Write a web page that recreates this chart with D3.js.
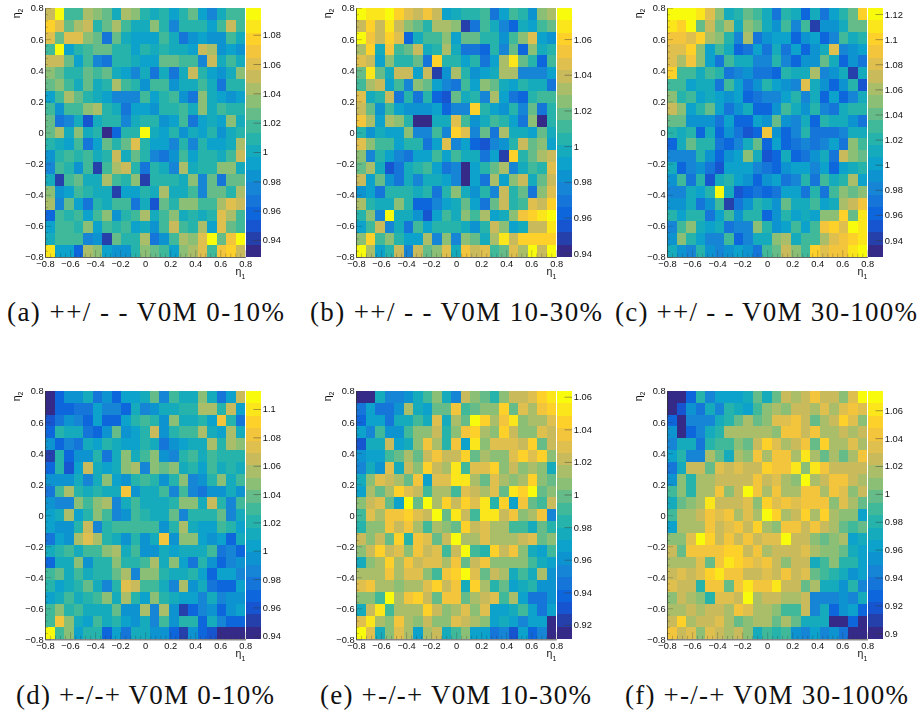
<!DOCTYPE html>
<html><head><meta charset="utf-8"><title>eta1 eta2 correlation</title>
<script src="https://cdn.jsdelivr.net/npm/d3@7"></script>
<style>html,body{margin:0;padding:0;background:#fff}svg{display:block}</style></head>
<body><div id="chart"></div>
<script>
// Colour-bin readings (0 = lowest of 20 palette levels, 19 = highest), rows run from eta2 = +0.8 down to -0.8
const binsA = [
[14,19,10,10,13,12,11,8,13,12,9,8,9,7,9,11,7,5,8,10,10],
[17,15,11,13,14,9,11,13,10,8,8,12,9,5,9,9,9,7,10,14,10],
[15,11,15,15,12,11,4,11,8,7,7,7,10,8,4,6,7,6,6,10,8],
[10,19,7,9,10,11,11,9,9,7,9,8,9,8,8,7,14,13,6,7,6],
[14,14,11,7,10,5,4,9,9,8,7,7,11,11,10,10,5,14,8,10,8],
[12,11,9,9,11,10,11,8,7,5,8,4,8,4,8,14,9,7,6,8,12],
[11,12,10,8,11,8,9,13,10,9,6,10,10,6,8,8,10,8,4,9,9],
[7,10,13,11,9,8,7,5,5,5,10,7,9,10,6,4,12,8,7,6,7],
[10,6,10,10,12,13,9,8,4,7,7,6,9,9,10,8,12,8,10,9,9],
[11,4,5,8,2,8,9,9,5,8,9,9,6,7,10,4,7,8,7,12,8],
[11,13,8,12,8,9,0,3,9,9,19,8,7,9,6,8,7,9,6,8,9],
[9,8,7,10,4,7,11,9,11,15,9,7,7,5,9,5,9,7,7,8,13],
[6,9,10,9,10,8,9,14,8,11,9,5,4,6,10,7,9,9,8,10,14],
[5,10,9,6,10,1,10,13,14,9,4,9,8,5,13,8,9,9,12,12,8],
[8,1,10,11,8,8,13,10,9,12,1,9,9,9,8,12,5,11,4,11,11],
[12,6,7,10,9,8,8,1,7,7,9,8,13,8,8,10,5,11,11,9,13],
[13,5,11,7,4,9,8,10,10,4,8,2,11,9,12,12,10,10,13,15,14],
[3,10,9,10,7,10,12,6,9,10,13,8,10,12,8,9,8,9,15,13,10],
[7,10,10,9,12,7,10,9,10,7,8,6,10,14,10,9,13,7,15,11,10],
[8,10,10,10,5,6,1,11,9,9,13,4,6,10,13,12,15,19,11,16,19],
[18,7,7,3,13,12,7,6,6,9,12,11,10,7,12,13,15,10,16,17,14]];
const binsB = [
[19,18,18,19,17,15,14,16,14,7,8,9,9,10,4,7,10,9,6,12,13],
[14,17,14,18,14,12,11,9,13,13,12,1,4,10,8,5,3,8,7,10,11],
[19,16,14,17,15,3,8,10,10,12,7,11,11,9,9,6,10,12,15,7,6],
[13,17,8,16,10,11,14,8,9,13,8,4,4,3,9,5,11,3,12,8,9],
[15,14,7,12,9,9,11,4,17,9,9,7,9,4,7,13,18,11,9,3,10],
[11,18,11,8,14,14,7,14,1,6,13,9,6,7,8,13,13,5,5,5,7],
[10,13,14,7,10,5,12,11,7,5,4,10,7,12,11,8,7,9,8,8,4],
[15,8,9,14,4,9,4,9,3,2,11,8,9,5,13,7,4,3,9,10,10],
[14,11,6,10,7,6,6,6,7,3,5,5,17,9,7,6,9,5,11,4,9],
[16,13,7,13,12,9,0,0,8,8,15,10,6,8,10,9,7,4,12,0,9],
[9,6,8,7,7,12,5,5,10,5,17,15,5,11,4,13,8,8,7,11,8],
[15,12,10,10,7,9,9,4,7,15,5,7,3,2,5,6,9,14,11,12,7],
[12,5,9,7,5,4,7,7,10,7,10,8,8,4,7,1,17,9,11,13,14],
[11,13,8,2,4,8,9,10,7,4,5,0,7,9,11,13,5,8,10,9,15],
[14,7,11,6,4,8,5,8,8,7,5,0,7,4,13,7,12,14,8,11,14],
[6,7,4,9,9,9,8,9,4,9,12,8,6,9,5,14,9,11,4,12,15],
[13,9,8,8,12,9,3,3,5,7,8,11,7,4,11,14,9,10,15,14,17],
[9,12,5,19,8,8,6,2,7,10,8,12,10,13,7,8,12,16,17,18,19],
[7,10,14,5,8,4,10,7,9,9,9,8,6,9,14,12,7,8,14,14,18],
[12,17,10,12,9,7,7,13,5,12,5,12,11,8,13,18,14,17,17,17,17],
[19,13,7,9,14,5,14,11,12,15,8,16,14,15,10,11,15,13,19,14,19]];
const binsC = [
[19,19,19,18,15,12,8,9,11,10,8,4,9,8,3,8,4,7,9,11,17],
[18,17,19,11,14,11,13,8,12,11,8,6,10,5,10,1,6,6,8,11,11],
[16,16,15,17,13,12,9,5,13,4,6,7,7,3,6,7,3,5,10,8,9],
[15,15,17,12,7,10,8,3,4,7,4,8,4,7,3,6,8,15,5,6,7],
[15,13,16,12,7,4,10,8,8,5,5,9,5,3,6,6,11,8,3,6,4],
[17,10,10,8,10,9,4,5,6,4,4,3,9,8,8,13,5,6,8,1,8],
[10,10,7,8,8,4,10,7,4,6,9,7,6,5,15,8,6,3,6,9,2],
[12,9,10,7,8,7,6,7,3,4,5,5,7,9,5,8,3,7,3,5,8],
[14,12,7,9,11,7,4,6,8,3,3,6,10,8,6,9,5,4,8,9,9],
[11,11,6,6,6,4,7,3,3,7,6,11,6,5,8,3,9,8,8,6,4],
[9,8,9,3,8,3,6,4,2,3,16,6,3,5,9,4,4,4,5,8,8],
[3,8,11,9,9,4,3,5,8,11,3,7,3,4,5,4,5,7,4,12,10],
[5,5,5,9,6,3,6,7,12,8,2,3,8,3,4,6,8,4,14,12,11],
[8,3,5,6,4,2,7,7,7,5,4,3,6,7,7,5,7,3,7,8,9],
[6,10,4,9,2,8,9,7,6,3,6,7,4,5,9,4,10,8,9,13,7],
[5,5,8,7,9,19,8,2,3,4,3,4,7,7,4,9,4,10,12,11,12],
[6,6,8,4,6,10,1,4,6,9,8,6,11,8,8,10,7,8,13,14,16],
[9,7,9,9,4,7,10,6,9,9,3,6,9,7,8,7,12,12,17,11,18],
[5,10,12,8,7,8,4,5,5,12,9,6,7,10,7,10,16,17,15,19,18],
[6,12,9,7,5,5,10,3,5,8,8,12,13,8,10,10,13,15,16,17,18],
[8,6,5,9,6,5,6,7,6,4,10,11,14,12,10,17,15,16,16,18,19]];
const binsD = [
[0,3,6,6,8,4,6,3,7,7,8,11,5,10,8,8,12,8,4,7,14],
[0,3,3,4,4,7,5,5,3,8,5,6,8,8,9,9,13,13,9,14,7],
[2,4,6,5,3,7,3,3,7,9,10,9,6,12,8,8,9,7,16,9,4],
[3,9,8,8,4,3,6,11,6,7,9,14,6,9,10,10,13,8,7,13,8],
[6,3,5,4,8,7,9,8,7,7,9,8,4,6,7,8,8,13,9,13,12],
[1,9,3,6,6,9,4,8,12,8,10,12,6,5,9,10,8,10,9,9,9],
[3,9,2,7,14,8,7,8,12,13,5,12,11,12,8,9,7,10,8,9,8],
[6,6,6,8,5,8,12,7,6,9,10,9,6,9,12,5,6,9,12,8,10],
[4,10,13,9,8,9,8,8,16,6,8,8,10,5,10,5,4,6,6,8,6],
[6,5,5,12,10,12,13,5,8,10,8,8,8,9,12,12,8,14,9,5,10],
[7,8,13,7,9,12,10,5,6,10,9,8,8,11,5,9,9,9,11,5,8],
[7,6,6,9,14,5,9,10,10,10,10,10,6,9,13,8,7,7,10,9,7],
[4,7,6,13,15,13,9,8,6,9,6,8,16,6,12,12,7,6,7,3,8],
[8,9,10,8,10,10,12,13,8,10,6,6,8,7,8,8,8,10,4,5,3],
[3,8,8,12,6,9,9,12,9,9,10,13,8,12,7,4,9,6,3,5,6],
[10,11,8,10,8,9,9,11,13,5,12,12,9,8,8,9,7,3,7,7,5],
[9,7,8,9,11,8,5,9,15,14,10,10,8,5,13,6,8,4,3,3,7],
[7,8,10,8,9,10,12,8,13,9,7,12,9,8,7,7,5,8,5,6,6],
[10,12,9,10,8,8,8,11,6,6,13,5,13,6,1,3,5,6,3,6,7],
[10,16,12,8,7,10,8,9,7,6,8,5,10,6,9,9,3,8,5,3,3],
[19,10,12,7,9,9,3,7,4,8,8,6,6,3,1,6,3,2,0,0,0]];
const binsE = [
[0,0,8,5,5,6,8,10,12,8,5,14,12,11,9,12,14,14,15,17,18],
[4,7,4,4,6,13,8,7,11,11,16,10,11,12,12,17,11,15,13,16,17],
[3,7,7,4,8,8,10,8,15,8,13,11,19,17,13,16,18,12,13,13,15],
[7,5,10,6,6,10,12,12,14,9,12,16,17,13,12,17,14,12,12,15,14],
[2,8,8,14,7,8,12,16,13,9,16,7,18,12,15,15,15,14,17,11,14],
[6,7,7,10,11,13,11,14,16,14,14,17,11,13,12,12,15,17,15,17,12],
[5,8,6,15,8,14,12,17,14,13,18,10,15,15,17,12,14,12,13,12,8],
[8,12,15,14,13,11,16,7,15,15,18,18,13,11,15,13,12,13,17,12,11],
[7,13,11,13,17,15,14,10,13,13,10,15,14,13,15,11,18,17,19,11,12],
[12,14,15,11,7,19,11,19,13,17,14,17,15,18,9,17,7,16,11,10,14],
[10,15,13,16,16,17,15,14,19,11,18,14,10,18,18,14,16,12,13,16,5],
[9,12,12,16,14,16,13,10,13,12,11,17,14,15,13,13,10,10,8,11,9],
[14,12,14,11,17,9,16,15,11,14,19,13,13,15,13,13,13,14,15,11,12],
[12,14,17,14,15,12,16,14,15,10,14,19,10,9,17,14,16,12,8,7,10],
[8,12,13,17,13,16,14,15,15,13,16,11,14,16,12,12,12,12,10,8,7],
[13,13,13,16,13,15,15,12,10,16,17,19,15,11,14,13,8,10,8,13,6],
[15,16,13,13,12,13,13,15,17,14,16,8,17,13,9,11,7,8,9,6,6],
[12,12,10,19,13,16,17,14,11,16,16,11,13,14,15,10,13,7,4,4,6],
[8,14,18,10,13,13,13,17,14,12,13,15,12,15,7,7,8,10,7,4,7],
[15,18,13,12,16,13,12,14,12,12,15,14,13,12,7,8,7,5,7,7,0],
[19,15,8,12,15,13,7,13,14,8,10,12,7,7,4,5,2,7,3,5,0]];
const binsF = [
[0,0,3,9,5,7,7,7,8,11,8,11,14,13,14,16,14,14,12,15,19],
[0,2,6,4,8,5,9,8,7,10,12,13,12,14,14,13,15,13,15,16,15],
[3,0,5,5,5,8,9,11,13,11,12,15,15,16,14,11,13,14,17,15,12],
[6,0,3,5,8,9,13,13,13,13,13,12,16,16,14,16,13,13,14,13,14],
[5,8,8,4,9,10,10,12,11,14,17,15,13,14,16,11,17,13,13,15,13],
[7,9,5,5,13,11,8,13,12,16,13,16,16,13,18,13,11,13,11,13,16],
[4,8,14,14,11,15,14,15,14,14,17,16,16,18,12,18,16,14,14,14,14],
[6,12,9,13,13,14,14,14,14,16,14,15,13,12,19,13,14,16,16,14,13],
[10,12,9,13,13,16,12,14,19,16,13,16,13,13,16,16,13,16,15,12,14],
[8,11,12,13,18,14,14,14,15,12,17,15,16,15,16,16,16,12,15,13,11],
[10,13,13,14,16,15,16,13,15,13,19,17,13,14,17,13,17,13,12,12,7],
[7,13,13,13,16,14,15,16,14,17,13,12,16,16,14,16,14,13,11,10,11],
[12,12,15,19,17,14,16,14,16,14,15,15,19,14,14,12,11,12,13,7,8],
[14,11,16,16,16,16,17,17,14,16,13,14,14,14,15,13,12,12,11,8,7],
[13,13,13,15,11,16,18,17,16,15,16,14,12,14,14,8,10,12,9,9,7],
[14,15,14,15,17,18,16,16,14,14,15,14,16,14,15,11,10,9,8,6,7],
[15,14,14,9,16,16,11,16,18,16,16,18,14,14,11,13,8,8,6,9,5],
[12,14,13,12,9,15,15,14,19,13,14,14,13,13,14,5,5,5,6,5,8],
[13,13,14,13,14,14,13,16,15,13,13,12,10,10,14,5,8,3,6,7,3],
[14,17,13,14,14,15,13,11,12,13,13,11,13,11,8,8,8,0,0,3,0],
[16,14,15,12,15,14,13,14,12,8,10,9,10,6,5,7,5,6,4,0,0]];

const captions = ["(a) ++/ - - V0M 0-10%","(b) ++/ - - V0M 10-30%","(c) ++/ - - V0M 30-100%",
                  "(d) +-/-+ V0M 0-10%","(e) +-/-+ V0M 10-30%","(f) +-/-+ V0M 30-100%"];
const zRanges = [[0.9284,1.0982],[0.9379,1.0774],[0.9265,1.1248],[0.9375,1.1127],[0.9112,1.0635],[0.8957,1.0738]];
const zTicks = [
 [0.94,0.96,0.98,1,1.02,1.04,1.06,1.08],
 [0.94,0.96,0.98,1,1.02,1.04,1.06],
 [0.94,0.96,0.98,1,1.02,1.04,1.06,1.08,1.1,1.12],
 [0.94,0.96,0.98,1,1.02,1.04,1.06,1.08,1.1],
 [0.92,0.94,0.96,0.98,1,1.02,1.04,1.06],
 [0.9,0.92,0.94,0.96,0.98,1,1.02,1.04,1.06]];
const etaTicks = [-0.8,-0.6,-0.4,-0.2,0,0.2,0.4,0.6,0.8];
const etaMinorTicks = [-0.76,-0.72,-0.68,-0.64,-0.56,-0.52,-0.48,-0.44,-0.36,-0.32,-0.28,-0.24,-0.16,-0.12,-0.08,-0.04,0.04,0.08,0.12,0.16,0.24,0.28,0.32,0.36,0.44,0.48,0.52,0.56,0.64,0.68,0.72,0.76];
const birdStops = [0,.125,.25,.375,.5,.625,.75,.875,1];
const birdColors = ["#352a87","#0f5cdd","#1481d6","#06a4ca","#2eb7a4","#87bf77","#d1bb59","#fec832","#f9fb0e"];
const allBins = [binsA,binsB,binsC,binsD,binsE,binsF];

const W=920,H=715,nLevels=20,nBins=21;
const lefts=[45,356,667], tops=[8,391], plotW=200.3, plotHs=[249,248.3], barGap=1, barW=14.7;
const captionX=[[7,277],[310,292],[615,302],[16,258],[320,271],[625,283]], captionY=[321,703.5];

const bird=d3.scaleLinear().domain(birdStops).range(birdColors).interpolate(d3.interpolateRgb);
const palette=d3.range(nLevels).map(i=>bird(i/(nLevels-1)));
const fmtEta=d=>(d<0?"\u2212":"")+Math.abs(d);
const fmtZ=d=>String(+d.toFixed(2));

const svg=d3.select("#chart").append("svg").attr("width",W).attr("height",H).attr("viewBox",`0 0 ${W} ${H}`)
  .style("font-family","'Liberation Sans',Arial,sans-serif");
const defs=svg.append("defs");
defs.append("filter").attr("id","soft").attr("filterUnits","userSpaceOnUse")
  .attr("x",0).attr("y",0).attr("width",W).attr("height",H)
  .append("feGaussianBlur").attr("stdDeviation",0.5);

allBins.forEach((bins,p)=>{
  const col=p%3,row=Math.floor(p/3),L=lefts[col],T=tops[row],h=plotHs[row];
  const g=svg.append("g").attr("filter","url(#soft)");
  const x=d3.scaleLinear().domain([-0.8,0.8]).range([L,L+plotW]);
  const y=d3.scaleLinear().domain([-0.8,0.8]).range([T+h,T]);
  const binW=1.6/nBins;
  const [z0,z1]=zRanges[p];
  const color=d3.scaleQuantize().domain([z0,z1]).range(palette);
  const cells=bins.flatMap((r,j)=>r.map((b,i)=>({
    eta1:-0.8+i*binW, eta2:0.8-j*binW, value:z0+(b+0.5)*(z1-z0)/nLevels})));
  g.append("g").selectAll("rect").data(cells).join("rect")
    .attr("x",d=>x(d.eta1)).attr("y",d=>y(d.eta2))
    .attr("width",x(binW)-x(0)).attr("height",y(0)-y(binW))
    .attr("fill",d=>color(d.value)).attr("shape-rendering","crispEdges");

  // colour bar
  const barL=L+plotW+barGap;
  const zs=d3.scaleLinear().domain([z0,z1]).range([T+h,T]);
  const step=(z1-z0)/nLevels;
  g.append("g").selectAll("rect").data(d3.range(nLevels)).join("rect")
    .attr("x",barL).attr("width",barW)
    .attr("y",i=>zs(z0+(i+1)*step)).attr("height",zs(z0)-zs(z0+step))
    .attr("fill",i=>palette[i]).attr("shape-rendering","crispEdges");
  const zAxis=d3.axisRight(zs).tickValues(zTicks[p]).tickFormat(fmtZ).tickSizeInner(-7.5).tickSizeOuter(0).tickPadding(9);
  const zg=g.append("g").attr("transform",`translate(${barL+barW},0)`).call(zAxis);
  zg.select(".domain").remove();
  zg.selectAll("line").attr("stroke","#3a3a3a").attr("stroke-opacity",0.65).attr("stroke-width",0.7);
  zg.selectAll("text").attr("font-size",9.3).attr("fill","#111").attr("x",1.8);

  // axes with ROOT style inward ticks
  const xAxis=d3.axisBottom(x).tickValues(etaTicks).tickFormat(fmtEta).tickSizeInner(-7).tickSizeOuter(0).tickPadding(11);
  const yAxis=d3.axisLeft(y).tickValues(etaTicks).tickFormat(fmtEta).tickSizeInner(-6).tickSizeOuter(0).tickPadding(7);
  const gx=g.append("g").attr("transform",`translate(0,${T+h})`).call(xAxis);
  const gy=g.append("g").attr("transform",`translate(${L},0)`).call(yAxis);
  const gxm=g.append("g").attr("transform",`translate(0,${T+h})`).call(d3.axisBottom(x).tickValues(etaMinorTicks).tickFormat("").tickSizeInner(-3.5).tickSizeOuter(0));
  const gym=g.append("g").attr("transform",`translate(${L},0)`).call(d3.axisLeft(y).tickValues(etaMinorTicks).tickFormat("").tickSizeInner(-3).tickSizeOuter(0));
  [gx,gy,gxm,gym].forEach(a=>{
    a.select(".domain").attr("stroke","#333").attr("stroke-width",0.5);
    a.selectAll("line").attr("stroke","#333").attr("stroke-opacity",0.5).attr("stroke-width",0.55);
    a.selectAll("text").attr("font-size",9.3).attr("fill","#111");
  });
  gx.selectAll("text").attr("y",3.4);
  gy.selectAll("text").attr("x",-1.4);

  // axis titles
  const tx=g.append("text").attr("x",L+plotW).attr("y",T+h+18).attr("text-anchor","end").attr("font-size",10.5).attr("fill","#111");
  tx.append("tspan").text("\u03b7");
  tx.append("tspan").attr("dy",3.5).attr("font-size",7).text("1");
  const ty=g.append("text").attr("transform",`translate(${L-25.5},${T+0.5}) rotate(-90)`).attr("text-anchor","end").attr("font-size",10.5).attr("fill","#111");
  ty.append("tspan").text("\u03b7");
  ty.append("tspan").attr("dy",3.5).attr("font-size",7).text("2");

  // caption
  svg.append("text").attr("x",captionX[p][0]).attr("y",captionY[row])
    .attr("textLength",captionX[p][1]).attr("lengthAdjust","spacing")
    .attr("font-family","'Liberation Serif','Times New Roman',serif").attr("font-size",27).attr("fill","#111")
    .text(captions[p]);
});
</script></body></html>
